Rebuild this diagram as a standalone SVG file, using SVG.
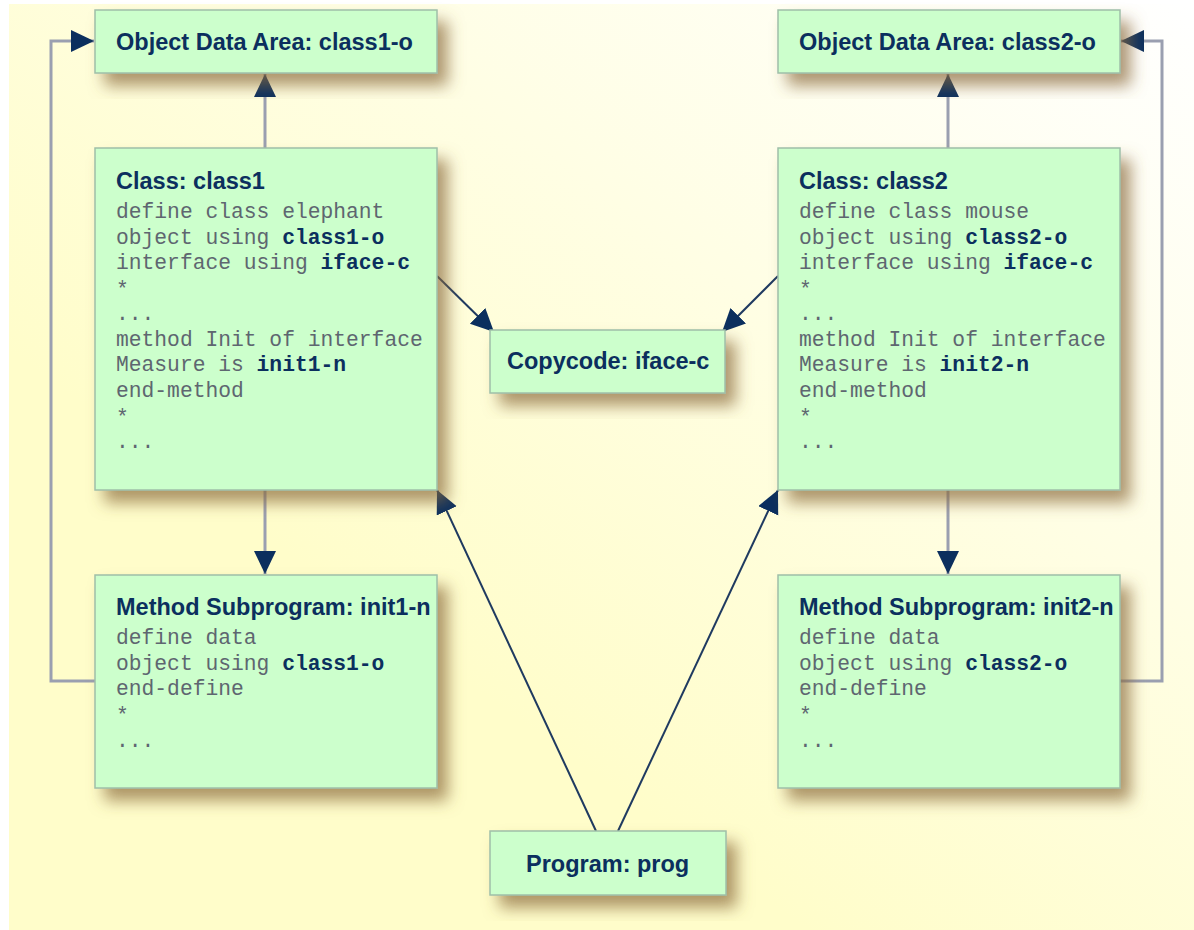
<svg xmlns="http://www.w3.org/2000/svg" width="1194" height="930" viewBox="0 0 1194 930">
<defs>
<linearGradient id="bg" x1="1" y1="0" x2="0.35" y2="0.7">
<stop offset="0" stop-color="#FFFFFF"/>
<stop offset="1" stop-color="#FFFDCA"/>
</linearGradient>
<filter id="sh" x="-20%" y="-20%" width="150%" height="160%">
<feDropShadow dx="10" dy="12" stdDeviation="8" flood-color="#8A6A3A" flood-opacity="0.7"/>
</filter>
<marker id="ah" markerUnits="userSpaceOnUse" markerWidth="25" markerHeight="23" refX="23" refY="11" orient="auto">
<path d="M0,0 L23,11 L0,22 Z" fill="#0B2F5E"/>
</marker>
<style>
.box{fill:#CCFFCC;stroke:#9FBFA8;stroke-width:1.5;filter:url(#sh)}
.t{font-family:"Liberation Sans",Arial,sans-serif;font-weight:bold;font-size:23.5px;fill:#0B2F5E}
.c{font-family:"Liberation Mono","Courier New",monospace;font-size:21.3px;fill:#5E6670}
.b{font-weight:bold;fill:#0B2F5E}
.g{fill:none;stroke:#9A9FB0;stroke-width:3}
.d{fill:none;stroke:#1F3A60;stroke-width:2}
</style>
</defs>
<rect x="9" y="4" width="1185" height="926" fill="url(#bg)"/>
<g id="connectors">
<line class="g" x1="265" y1="148" x2="265" y2="74" marker-end="url(#ah)"/>
<line class="g" x1="948" y1="148" x2="948" y2="74" marker-end="url(#ah)"/>
<line class="g" x1="265" y1="490" x2="265" y2="574" marker-end="url(#ah)"/>
<line class="g" x1="948" y1="490" x2="948" y2="574" marker-end="url(#ah)"/>
<polyline class="g" points="95,681 51,681 51,41 94,41" marker-end="url(#ah)"/>
<polyline class="g" points="1120,681 1162,681 1162,41 1121,41" marker-end="url(#ah)"/>
<line class="d" x1="437" y1="276" x2="494" y2="332" marker-end="url(#ah)"/>
<line class="d" x1="778" y1="276" x2="722" y2="332" marker-end="url(#ah)"/>
<line class="d" x1="596" y1="831" x2="437" y2="490" marker-end="url(#ah)"/>
<line class="d" x1="618" y1="831" x2="778" y2="490" marker-end="url(#ah)"/>
</g>
<g id="oda1">
<rect class="box" x="95" y="10" width="342" height="63"/>
<text class="t" x="116" y="50">Object Data Area: class1-o</text>
</g>
<g id="oda2">
<rect class="box" x="778" y="10" width="342" height="63"/>
<text class="t" x="799" y="50">Object Data Area: class2-o</text>
</g>
<g id="class1">
<rect class="box" x="95" y="148" width="342" height="342"/>
<text class="t" x="116" y="189">Class: class1</text>
<text class="c" x="116" y="218">define class elephant</text>
<text class="c" x="116" y="243.5">object using <tspan class="b">class1-o</tspan></text>
<text class="c" x="116" y="269">interface using <tspan class="b">iface-c</tspan></text>
<text class="c" x="116" y="296">*</text>
<text class="c" x="116" y="320">...</text>
<text class="c" x="116" y="345.5">method Init of interface</text>
<text class="c" x="116" y="371">Measure is <tspan class="b">init1-n</tspan></text>
<text class="c" x="116" y="396.5">end-method</text>
<text class="c" x="116" y="424">*</text>
<text class="c" x="116" y="447.5">...</text>
</g>
<g id="class2">
<rect class="box" x="778" y="148" width="342" height="342"/>
<text class="t" x="799" y="189">Class: class2</text>
<text class="c" x="799" y="218">define class mouse</text>
<text class="c" x="799" y="243.5">object using <tspan class="b">class2-o</tspan></text>
<text class="c" x="799" y="269">interface using <tspan class="b">iface-c</tspan></text>
<text class="c" x="799" y="296">*</text>
<text class="c" x="799" y="320">...</text>
<text class="c" x="799" y="345.5">method Init of interface</text>
<text class="c" x="799" y="371">Measure is <tspan class="b">init2-n</tspan></text>
<text class="c" x="799" y="396.5">end-method</text>
<text class="c" x="799" y="424">*</text>
<text class="c" x="799" y="447.5">...</text>
</g>
<g id="copycode">
<rect class="box" x="490" y="330" width="235" height="63"/>
<text class="t" x="507" y="369">Copycode: iface-c</text>
</g>
<g id="method1">
<rect class="box" x="95" y="575" width="342" height="213"/>
<text class="t" x="116" y="615">Method Subprogram: init1-n</text>
<text class="c" x="116" y="644">define data</text>
<text class="c" x="116" y="670">object using <tspan class="b">class1-o</tspan></text>
<text class="c" x="116" y="695">end-define</text>
<text class="c" x="116" y="722">*</text>
<text class="c" x="116" y="747">...</text>
</g>
<g id="method2">
<rect class="box" x="778" y="575" width="342" height="213"/>
<text class="t" x="799" y="615">Method Subprogram: init2-n</text>
<text class="c" x="799" y="644">define data</text>
<text class="c" x="799" y="670">object using <tspan class="b">class2-o</tspan></text>
<text class="c" x="799" y="695">end-define</text>
<text class="c" x="799" y="722">*</text>
<text class="c" x="799" y="747">...</text>
</g>
<g id="prog">
<rect class="box" x="490" y="831" width="236" height="64"/>
<text class="t" x="526" y="872">Program: prog</text>
</g>
</svg>
